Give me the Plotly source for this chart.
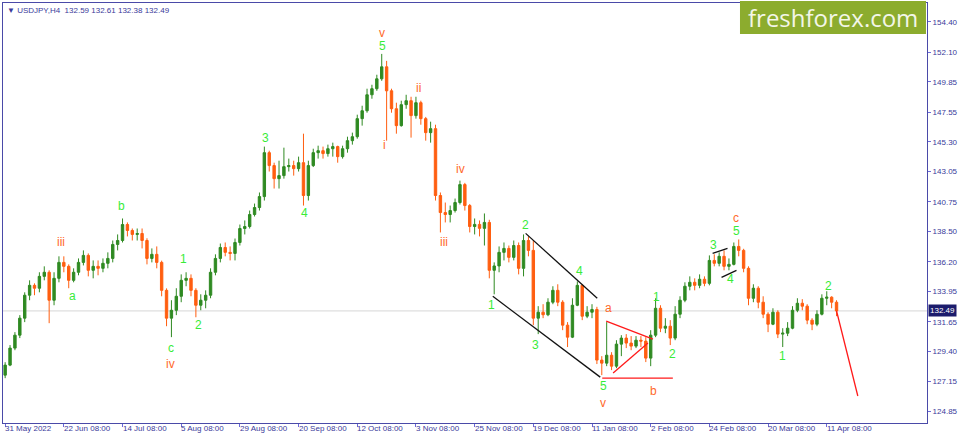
import plotly.graph_objects as go

# USDJPY H4, one candle here stands for a few H4 bars
first_open = 127.62
closes = [
    128.38, 129.67, 130.65, 131.94, 133.68, 134.43, 134.21, 135.11, 135.42, 133.30,
    134.96, 136.17, 135.87, 134.81, 135.42, 136.17, 136.70, 135.57, 135.87, 135.72,
    136.10, 136.47, 137.53, 137.83, 139.04, 138.59, 138.29, 138.36, 137.83, 136.47,
    136.78, 136.17, 134.05, 131.94, 132.54, 133.60, 134.81, 134.96, 134.05, 132.92,
    133.30, 133.68, 135.42, 136.47, 137.30, 136.93, 136.85, 137.68, 138.74, 138.89,
    139.80, 140.33, 141.16, 144.49, 143.51, 142.52, 142.75, 143.43, 143.51, 143.28,
    143.73, 141.24, 143.51, 144.49, 144.64, 144.42, 144.79, 144.95, 144.19, 144.79,
    145.40, 145.70, 147.07, 147.67, 148.88, 149.34, 150.09, 151.00, 149.18, 147.82,
    146.54, 148.13, 148.43, 147.30, 148.28, 147.07, 146.01, 146.31, 141.24, 139.95,
    139.80, 140.10, 140.71, 142.07, 140.48, 138.89, 139.05, 138.75, 139.20, 135.57,
    135.90, 136.93, 137.23, 136.55, 137.45, 135.72, 137.83, 137.08, 131.94, 132.39,
    132.20, 133.15, 134.05, 133.15, 131.41, 130.50, 132.92, 134.43, 132.09, 132.39,
    132.60, 128.76, 128.53, 129.13, 128.30, 129.97, 130.43, 130.05, 129.82, 130.27,
    130.20, 128.91, 130.65, 132.69, 131.18, 131.33, 130.43, 132.24, 133.30, 134.36,
    134.66, 134.43, 134.89, 134.58, 136.32, 136.10, 136.63, 135.87, 136.02, 137.38,
    137.08, 135.72, 133.45, 134.21, 133.15, 132.24, 131.48, 132.39, 130.73, 130.80,
    131.18, 132.54, 133.07, 132.85, 131.79, 131.48, 132.24, 133.45, 133.53, 133.15,
    132.49,
]
highs = [
    128.60, 129.90, 130.88, 132.17, 133.90, 134.81, 134.58, 135.42, 135.87, 135.57,
    135.42, 136.63, 136.63, 136.02, 135.72, 136.47, 137.08, 136.85, 136.32, 136.32,
    136.47, 136.93, 137.83, 138.29, 139.50, 139.20, 138.74, 138.74, 138.74, 138.00,
    137.23, 137.38, 136.30, 134.20, 133.30, 134.21, 135.26, 135.42, 135.26, 134.21,
    133.75, 134.05, 135.72, 136.78, 137.60, 137.68, 137.38, 137.98, 139.04, 139.35,
    140.10, 140.63, 141.47, 144.95, 144.64, 143.73, 143.88, 144.87, 144.04, 143.88,
    144.19, 145.93, 143.88, 144.79, 145.02, 144.95, 145.10, 145.25, 145.02, 145.02,
    145.70, 146.01, 147.37, 148.05, 149.34, 149.64, 150.40, 151.98, 151.45, 149.34,
    148.28, 148.43, 148.88, 148.73, 148.73, 148.43, 147.20, 146.84, 146.61, 141.47,
    140.71, 140.48, 141.01, 142.37, 142.20, 140.60, 139.50, 139.35, 139.88, 139.40,
    136.17, 137.38, 137.68, 137.45, 137.83, 137.68, 138.29, 138.14, 137.83, 132.85,
    133.00, 133.45, 134.36, 134.51, 133.30, 131.64, 133.45, 134.73, 134.51, 132.85,
    133.00, 132.80, 129.06, 131.64, 129.36, 130.27, 130.65, 130.73, 130.58, 130.58,
    130.58, 130.50, 131.03, 133.45, 132.92, 131.94, 131.79, 132.85, 133.60, 134.66,
    135.11, 134.96, 135.26, 135.11, 136.70, 136.78, 136.93, 137.08, 136.47, 137.68,
    137.91, 137.20, 135.87, 134.51, 134.36, 133.60, 132.39, 132.69, 132.54, 131.18,
    131.64, 132.85, 133.45, 133.38, 133.00, 131.94, 132.54, 133.75, 133.98, 133.60,
    133.30,
]
lows = [
    127.39, 128.30, 129.51, 130.43, 131.64, 133.30, 133.68, 133.90, 134.81, 131.56,
    132.92, 134.66, 135.42, 134.21, 134.66, 135.19, 135.94, 135.11, 134.96, 135.19,
    135.42, 135.72, 136.17, 137.08, 137.68, 138.14, 137.83, 137.83, 137.23, 136.02,
    136.17, 135.72, 133.60, 131.33, 130.50, 132.17, 133.15, 134.36, 133.60, 132.01,
    132.54, 132.69, 133.45, 135.19, 136.17, 136.63, 136.32, 136.32, 137.45, 138.29,
    138.74, 139.65, 140.10, 140.86, 143.06, 141.77, 141.77, 142.52, 143.06, 142.75,
    143.06, 140.48, 140.86, 143.40, 144.04, 144.04, 144.19, 144.19, 143.73, 144.04,
    144.49, 145.10, 145.55, 146.54, 147.52, 148.58, 149.18, 149.94, 145.40, 147.52,
    145.93, 146.46, 147.82, 145.63, 147.07, 146.61, 145.40, 145.25, 140.86, 138.44,
    139.20, 139.20, 139.95, 140.56, 140.10, 138.44, 138.29, 138.14, 137.45, 134.96,
    133.75, 135.42, 136.32, 136.17, 136.32, 135.26, 135.11, 136.63, 131.41, 130.73,
    131.94, 132.09, 133.00, 132.85, 131.03, 129.75, 130.43, 132.85, 131.79, 131.94,
    131.94, 128.46, 127.62, 128.30, 128.00, 128.15, 129.06, 129.67, 129.51, 129.67,
    129.75, 128.61, 128.30, 130.50, 130.88, 130.80, 129.90, 130.27, 131.94, 133.15,
    134.05, 134.05, 134.21, 134.36, 134.43, 135.87, 135.87, 135.57, 135.57, 135.94,
    136.63, 135.42, 132.92, 133.15, 132.69, 131.94, 130.88, 131.41, 130.43, 129.75,
    130.58, 131.10, 132.39, 132.54, 131.48, 131.03, 131.33, 132.15, 132.92, 132.69,
    132.09,
]
opens = [first_open] + closes[:-1]
bars = list(range(len(closes)))

price_ticks = [154.40, 152.10, 149.85, 147.55, 145.30, 143.05, 140.75,
               138.50, 136.20, 133.95, 131.65, 129.40, 127.15, 124.85]
date_bars = [0, 12, 24, 36, 48, 60, 72, 84, 96, 108, 120, 132, 144, 156, 168]
date_labels = ["31 May 2022", "22 Jun 08:00", "14 Jul 08:00", "5 Aug 08:00",
               "29 Aug 08:00", "20 Sep 08:00", "12 Oct 08:00", "3 Nov 08:00",
               "25 Nov 08:00", "19 Dec 08:00", "11 Jan 08:00", "2 Feb 08:00",
               "24 Feb 08:00", "20 Mar 08:00", "11 Apr 08:00"]
last_price = 132.49
header = "&#9660; USDJPY,H4  132.59 132.61 132.38 132.49"

# wave counts: bar, price, text, colour kind
wave_labels = [
    (11.45, 137.69, "iii", "o"), (13.69, 133.60, "a", "g"), (23.86, 140.48, "b", "g"),
    (36.47, 136.40, "1", "g"), (39.52, 131.41, "2", "g"), (33.82, 129.67, "c", "g"),
    (33.82, 128.46, "iv", "o"), (53.14, 145.63, "3", "g"), (61.28, 139.88, "4", "g"),
    (77.55, 145.10, "i", "o"), (77.14, 152.59, "5", "g"), (77.14, 153.57, "v", "o"),
    (84.46, 149.41, "ii", "o"), (93.21, 143.28, "iv", "o"), (89.75, 137.69, "iii", "o"),
    (99.51, 132.92, "1", "g"), (106.43, 138.97, "2", "g"), (108.46, 129.89, "3", "g"),
    (117.41, 135.49, "4", "g"), (122.29, 126.79, "5", "g"), (122.29, 125.51, "v", "o"),
    (123.31, 132.69, "a", "o"), (132.66, 126.41, "b", "o"), (133.27, 133.53, "1", "g"),
    (136.53, 129.21, "2", "g"), (144.86, 137.46, "3", "g"), (148.32, 134.89, "4", "g"),
    (149.54, 138.52, "5", "g"), (149.54, 139.50, "c", "o"), (158.90, 129.06, "1", "g"),
    (168.26, 134.36, "2", "g"),
]

# drawn lines: bar0, price0, bar1, price1, colour
trend_lines = [
    (106.43, 138.37, 121.07, 133.45, "black"),
    (99.71, 133.60, 121.68, 127.47, "black"),
    (144.66, 136.85, 147.71, 137.23, "black"),
    (146.49, 135.04, 149.54, 135.57, "black"),
    (122.90, 131.71, 132.46, 130.35, "red"),
    (124.32, 127.78, 131.44, 130.05, "red"),
    (122.09, 127.40, 136.53, 127.40, "red"),
    (170.0, 132.49, 174.35, 126.04, "red"),
]

axis_blue = "#3a3a9a"
green = "#38ec38"
orange = "#ff6a2a"

fig = go.Figure(go.Candlestick(
    x=bars, open=opens, high=highs, low=lows, close=closes,
    increasing=dict(line=dict(color="#2f8a22", width=1), fillcolor="#2f8a22"),
    decreasing=dict(line=dict(color="#ff5e10", width=1), fillcolor="#ff5e10"),
    whiskerwidth=0, hoverinfo="skip", showlegend=False,
))

shapes = [dict(type="line", xref="paper", x0=0, x1=1, y0=last_price, y1=last_price,
               line=dict(color="#d6d6d6", width=1), layer="below")]
for b0, p0, b1, p1, col in trend_lines:
    shapes.append(dict(type="line", x0=b0, y0=p0, x1=b1, y1=p1,
                       line=dict(color="#ff1a1a" if col == "red" else "#111111", width=1.3)))
# logo block
shapes.append(dict(type="rect", xref="paper", yref="paper", x0=0.7976, x1=0.9989,
                   y0=0.9264, y1=1.0048, fillcolor="#8cac2e", line=dict(width=0)))

annotations = []
for b, p, t, kind in wave_labels:
    annotations.append(dict(x=b, y=p, text=t, showarrow=False,
                            font=dict(family="Liberation Sans, Arial", size=12,
                                      color=green if kind == "g" else orange)))
for b, lab in zip(date_bars, date_labels):
    annotations.append(dict(x=b, xref="x", y=0, yref="paper", text=lab, showarrow=False,
                            xanchor="left", yanchor="top", xshift=-2, yshift=1,
                            font=dict(family="Liberation Sans, Arial", size=8, color=axis_blue)))
annotations.append(dict(x=1, xref="paper", y=last_price, text=str(last_price), showarrow=False,
                        xanchor="left", xshift=1, bgcolor="#1c1c6c", borderpad=1,
                        font=dict(family="Liberation Sans, Arial", size=8, color="white")))
annotations.append(dict(x=0, xref="paper", y=1, yref="paper", text=header, showarrow=False,
                        xanchor="left", yanchor="top", xshift=2, yshift=-1,
                        font=dict(family="Liberation Sans, Arial", size=8, color=axis_blue)))
annotations.append(dict(x=0.8988, xref="paper", y=0.966, yref="paper", text="freshforex.com",
                        xanchor="center", yanchor="middle", showarrow=False,
                        font=dict(family="Open Sans", size=24, color="#f3f6e8")))

fig.update_layout(
    width=960, height=433,
    margin=dict(l=2, r=29, t=2, b=10),
    paper_bgcolor="white", plot_bgcolor="white",
    shapes=shapes, annotations=annotations,
    xaxis=dict(range=[-0.44, 188.5], rangeslider=dict(visible=False), showgrid=False,
               zeroline=False, tickvals=date_bars, showticklabels=False, ticks="outside",
               ticklen=3, tickcolor="#6a6adc", showline=True, linecolor="#4a4aa8",
               mirror=True, linewidth=1),
    yaxis=dict(range=[123.99, 155.84], side="right", showgrid=False, zeroline=False,
               tickvals=price_ticks, ticktext=["%.2f" % v for v in price_ticks],
               ticks="outside", ticklen=3, tickcolor="#6a6adc", showline=True,
               linecolor="#4a4aa8", mirror=True, linewidth=1,
               tickfont=dict(family="Liberation Sans, Arial", size=8, color=axis_blue)),
)

fig.write_html("out.html", config={"displayModeBar": False},
               post_script="document.body.style.margin='0';")
